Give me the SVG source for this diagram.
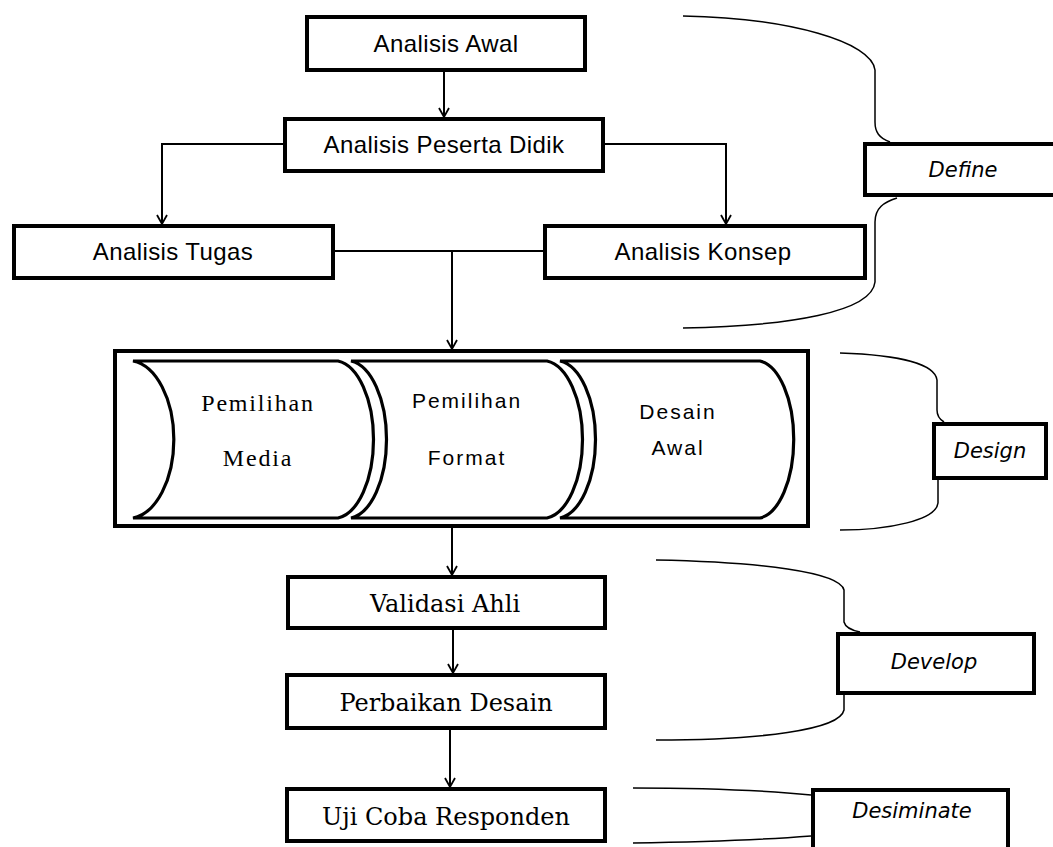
<svg xmlns="http://www.w3.org/2000/svg" width="1053" height="847" viewBox="0 0 1053 847">
<defs>
<marker id="arr" viewBox="0 0 12 12" refX="10" refY="6" markerWidth="12" markerHeight="12" markerUnits="userSpaceOnUse" orient="auto">
<path d="M1,1 L10,6 L1,11" fill="none" stroke="#000" stroke-width="1.8"/>
</marker>
<style>
.box{fill:#fff;stroke:#000;stroke-width:4}
.scroll{fill:#fff;stroke:#000;stroke-width:3.2}
.con{fill:none;stroke:#000;stroke-width:2}
.brace{fill:none;stroke:#000;stroke-width:1.5}
.sans{font-family:"Liberation Sans",Arial,sans-serif;font-size:24px;fill:#000;text-anchor:middle;letter-spacing:0.4px}
.slab{font-family:"DejaVu Serif","Liberation Serif",serif;font-size:24px;fill:#000;text-anchor:middle}
.pser{font-family:"Liberation Serif",serif;font-size:24px;fill:#000;text-anchor:middle;letter-spacing:1.8px}
.psans{font-family:"Liberation Sans",Arial,sans-serif;font-size:21px;fill:#000;text-anchor:middle;letter-spacing:2px}
.ital{font-family:"DejaVu Sans","Liberation Sans",sans-serif;font-style:italic;font-size:21px;fill:#000;text-anchor:middle}
</style>
</defs>
<rect width="1053" height="847" fill="#fff"/>

<g id="connectors">
<path class="con" d="M444,72 L444,117" marker-end="url(#arr)"/>
<path class="con" d="M283,144 L162,144 L162,224" marker-end="url(#arr)"/>
<path class="con" d="M605,144 L726,144 L726,224" marker-end="url(#arr)"/>
<path class="con" d="M335,251 L543,251"/>
<path class="con" d="M452,251 L452,349" marker-end="url(#arr)"/>
<path class="con" d="M452,528 L452,575" marker-end="url(#arr)"/>
<path class="con" d="M453,630 L453,673" marker-end="url(#arr)"/>
<path class="con" d="M450,730 L450,787" marker-end="url(#arr)"/>
<path class="brace" d="M683,16 C790,18 872,42 875,70 L875,122 C875,132 879,138 890,142"/>
<path class="brace" d="M897,198 C884,202 875,208 875,222 L875,282 C872,312 790,326 683,328"/>
<path class="brace" d="M840,353 C900,355 935,364 937,380 L937,410 C937,416 939,419 944,422"/>
<path class="brace" d="M938,480 L938,503 C936,520 890,530 840,530"/>
<path class="brace" d="M656,560 C760,562 840,572 844,590 L844,622 C845,626 850,630 860,632"/>
<path class="brace" d="M844,695 L844,710 C840,730 760,740 656,740"/>
<path class="brace" d="M633,788 C700,788 760,790 811,795"/>
<path class="brace" d="M633,843 C700,842 760,840 811,836"/>
</g>

<g id="analisis-awal">
<rect class="box" x="307" y="17" width="278" height="53"/>
<text class="sans" x="446" y="52">Analisis Awal</text>
</g>
<g id="analisis-peserta-didik">
<rect class="box" x="285" y="119" width="318" height="52"/>
<text class="sans" x="444" y="153">Analisis Peserta Didik</text>
</g>
<g id="analisis-tugas">
<rect class="box" x="14" y="226" width="319" height="52"/>
<text class="sans" x="173" y="260">Analisis Tugas</text>
</g>
<g id="analisis-konsep">
<rect class="box" x="545" y="226" width="320" height="52"/>
<text class="sans" x="703" y="260">Analisis Konsep</text>
</g>
<g id="define">
<rect class="box" x="865" y="144" width="200" height="51"/>
<text class="ital" x="963" y="177">Define</text>
</g>

<g id="design-group">
<rect class="box" x="115" y="351" width="693" height="175"/>
<g id="desain-awal">
<path class="scroll" d="M560,361 L760,361 A38,79 0 0 1 760,518 L560,518 A40,79 0 0 0 560,361 Z"/>
<text class="psans" x="678" y="419">Desain</text>
<text class="psans" x="678" y="455">Awal</text>
</g>
<g id="pemilihan-format">
<path class="scroll" d="M351,361 L547,361 A40,79 0 0 1 547,518 L351,518 A40,79 0 0 0 351,361 Z"/>
<text class="psans" x="467" y="408">Pemilihan</text>
<text class="psans" x="467" y="465">Format</text>
</g>
<g id="pemilihan-media">
<path class="scroll" d="M133,361 L338,361 A40,79 0 0 1 338,518 L133,518 A46,79 0 0 0 133,361 Z"/>
<text class="pser" x="258" y="411">Pemilihan</text>
<text class="pser" x="258" y="466">Media</text>
</g>
</g>
<g id="design">
<rect class="box" x="934" y="424" width="112" height="54"/>
<text class="ital" x="990" y="458">Design</text>
</g>

<g id="validasi-ahli">
<rect class="box" x="288" y="577" width="317" height="51"/>
<text class="slab" x="445" y="612">Validasi Ahli</text>
</g>
<g id="perbaikan-desain">
<rect class="box" x="287" y="675" width="318" height="53"/>
<text class="slab" x="446" y="711">Perbaikan Desain</text>
</g>
<g id="uji-coba-responden">
<rect class="box" x="287" y="789" width="318" height="52"/>
<text class="slab" x="446" y="825">Uji Coba Responden</text>
</g>
<g id="develop">
<rect class="box" x="838" y="634" width="196" height="59"/>
<text class="ital" x="934" y="669">Develop</text>
</g>
<g id="desiminate">
<rect class="box" x="813" y="790" width="195" height="70"/>
<text class="ital" x="912" y="818">Desiminate</text>
</g>
</svg>
